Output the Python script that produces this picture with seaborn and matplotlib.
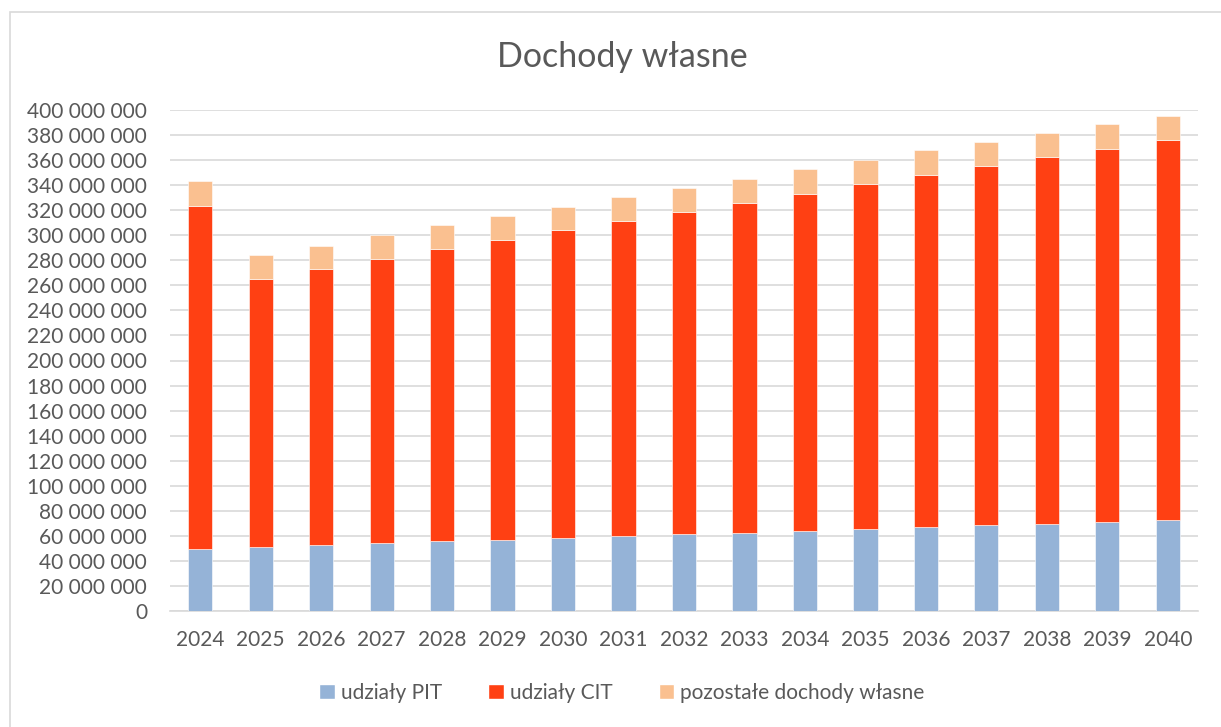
import numpy as np
import pandas as pd
import matplotlib
matplotlib.use("Agg")
import matplotlib.pyplot as plt
import seaborn as sns
from matplotlib.patches import Rectangle, Patch
from matplotlib.ticker import FuncFormatter

# Data (mln zł)
years = [str(y) for y in range(2024, 2041)]
pit = [49.2, 51.1, 52.7, 54.3, 55.9, 57.0, 58.5, 59.9, 61.3, 62.5, 64.1, 65.5, 67.1, 68.7, 69.7, 71.1, 72.4]
cit = [274.4, 213.7, 220.3, 226.7, 233.1, 239.5, 246.0, 251.7, 257.5, 263.5, 269.1, 275.5, 281.3, 286.6, 292.8, 298.0, 303.6]
other = [19.7, 19.2, 18.7, 19.2, 19.2, 18.9, 18.3, 18.9, 18.7, 18.9, 19.4, 19.1, 19.4, 19.4, 19.1, 19.5, 19.5]
labels = ["udziały PIT", "udziały CIT", "pozostałe dochody własne"]
colors = ["#95B3D7", "#FF4013", "#FAC090"]

df = pd.DataFrame({"rok": years,
                   "pit": np.array(pit) * 1e6,
                   "cit": np.array(cit) * 1e6,
                   "other": np.array(other) * 1e6})

sns.set_theme(style="white")
plt.rcParams["font.family"] = ["Lato", "DejaVu Sans"]

fig = plt.figure(figsize=(12.21, 7.27), dpi=100)
ax = fig.add_axes([170 / 1221, 1 - 611 / 727, 1028 / 1221, 501 / 727])

# Stacked bars
bottom = np.zeros(len(years))
for col, c in zip(["pit", "cit", "other"], colors):
    sns.barplot(x=df["rok"], y=df[col], bottom=bottom, color=c, width=0.4,
                saturation=1, ax=ax, zorder=3, edgecolor="white", linewidth=0.4)
    bottom = bottom + df[col].values

ax.set_xlim(-0.5, len(years) - 0.5)
ax.set_ylim(0, 400e6)
ax.set_yticks(np.arange(0, 400e6 + 1, 20e6))
ax.yaxis.set_major_formatter(FuncFormatter(lambda v, p: f"{int(v):,}".replace(",", " ")))
ax.grid(axis="y", color="#d9d9d9", linewidth=1.2, zorder=0)
ax.set_axisbelow(True)
for s in ["left", "right", "top"]:
    ax.spines[s].set_visible(False)
ax.spines["bottom"].set_color("#d9d9d9")
ax.spines["bottom"].set_linewidth(1.2)
ax.tick_params(axis="both", length=0, labelsize=15, labelcolor="#595959")
ax.tick_params(axis="y", pad=16.5)
ax.tick_params(axis="x", pad=14)
ax.set_xlabel("")
ax.set_ylabel("")

fig.text(622 / 1221, 1 - 57 / 727, "Dochody własne", ha="center", va="center",
         fontsize=24.5, color="#595959")

handles = [Patch(facecolor=c, label=l) for c, l in zip(colors, labels)]
fig.legend(handles=handles, loc="center", bbox_to_anchor=(622 / 1221, 1 - 693 / 727),
           ncol=3, frameon=False, fontsize=15, labelcolor="#595959",
           handlelength=0.75, handleheight=0.75, handletextpad=0.3, columnspacing=2.2)

# chart area border
fig.patches.append(Rectangle((10 / 1221, -0.1), 1.2, 1 - 12 / 727 + 0.1,
                             transform=fig.transFigure, fill=False,
                             edgecolor="#d9d9d9", linewidth=1.2))

fig.savefig("out.png", dpi=100)
